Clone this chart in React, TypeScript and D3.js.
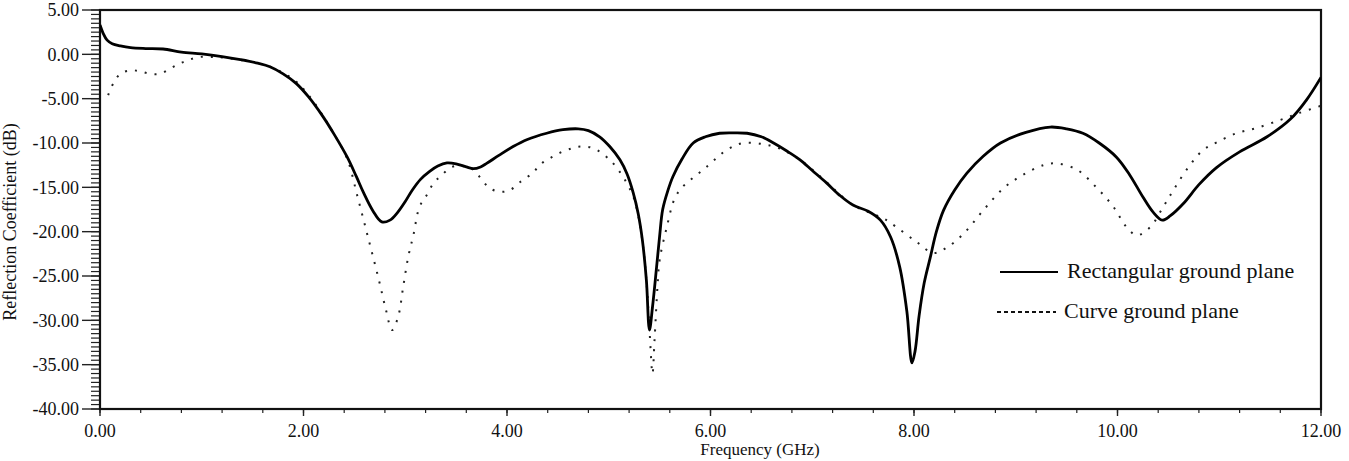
import React from 'react';
import * as d3 from 'd3';

// Rectangular ground plane (solid)
const rectFreq = [0, 0.03, 0.07, 0.12, 0.2, 0.3, 0.45, 0.62, 0.8, 1.0, 1.2, 1.38, 1.55, 1.67, 1.8, 1.93, 2.05, 2.19, 2.3, 2.43, 2.52, 2.59, 2.68, 2.77, 2.85, 2.92, 3.0, 3.07, 3.15, 3.24, 3.32, 3.41, 3.5, 3.6, 3.67, 3.74, 3.8, 3.92, 4.06, 4.2, 4.39, 4.55, 4.7, 4.8, 4.91, 5.01, 5.11, 5.18, 5.24, 5.29, 5.33, 5.37, 5.4, 5.43, 5.47, 5.5, 5.53, 5.58, 5.63, 5.72, 5.83, 5.95, 6.09, 6.22, 6.36, 6.5, 6.62, 6.75, 6.88, 7.0, 7.14, 7.27, 7.4, 7.55, 7.67, 7.77, 7.86, 7.93, 7.98, 8.01, 8.05, 8.1, 8.16, 8.22, 8.29, 8.4, 8.52, 8.68, 8.85, 9.1, 9.34, 9.5, 9.66, 9.82, 9.99, 10.12, 10.25, 10.35, 10.44, 10.52, 10.65, 10.8, 10.97, 11.2, 11.47, 11.7, 11.86, 12.0];
const rectDb = [3.3, 2.4, 1.6, 1.2, 0.95, 0.75, 0.65, 0.6, 0.25, 0.05, -0.25, -0.6, -1.0, -1.4, -2.2, -3.3, -4.8, -7.0, -9.0, -11.6, -13.8, -15.6, -17.6, -18.9, -18.7, -17.9, -16.6, -15.3, -14.1, -13.2, -12.6, -12.25, -12.35, -12.7, -12.9, -12.7, -12.3, -11.4, -10.4, -9.6, -8.9, -8.5, -8.4, -8.6, -9.3, -10.4, -11.9, -13.5, -15.6, -18.0, -20.9, -25.5, -31.1, -28.5, -24.0, -20.5, -17.5, -15.4, -13.8, -11.8, -10.0, -9.3, -8.9, -8.85, -8.9, -9.3, -10.0, -10.9, -11.9, -13.1, -14.5, -15.9, -17.0, -17.7, -18.7, -20.6, -24.0, -29.0, -34.8, -33.5, -29.5, -25.8, -22.9, -20.0, -17.6, -15.3, -13.4, -11.5, -10.0, -8.8, -8.2, -8.4, -8.9, -10.0, -11.6, -13.6, -16.1, -17.8, -18.7, -18.2, -16.8, -14.7, -12.8, -11.0, -9.3, -7.3, -5.1, -2.6];

// Curve ground plane (dotted)
const curveFreq = [0.08, 0.13, 0.2, 0.3, 0.39, 0.49, 0.59, 0.69, 0.79, 0.88, 0.98, 1.1, 1.2, 1.38, 1.55, 1.67, 1.8, 1.93, 2.05, 2.19, 2.3, 2.43, 2.53, 2.64, 2.74, 2.81, 2.87, 2.93, 2.98, 3.03, 3.08, 3.14, 3.21, 3.28, 3.36, 3.46, 3.55, 3.64, 3.73, 3.83, 3.94, 4.03, 4.13, 4.25, 4.34, 4.44, 4.54, 4.64, 4.73, 4.85, 5.01, 5.14, 5.24, 5.29, 5.33, 5.37, 5.4, 5.43, 5.45, 5.48, 5.5, 5.57, 5.65, 5.73, 5.83, 5.93, 6.02, 6.12, 6.22, 6.32, 6.44, 6.54, 6.63, 6.75, 6.88, 7.0, 7.14, 7.27, 7.4, 7.55, 7.7, 7.83, 8.03, 8.19, 8.32, 8.49, 8.68, 8.88, 9.07, 9.27, 9.4, 9.6, 9.8, 9.96, 10.09, 10.19, 10.32, 10.45, 10.55, 10.68, 10.84, 10.98, 11.17, 11.37, 11.6, 11.79, 12.0];
const curveDb = [-4.6, -3.3, -2.2, -1.8, -1.9, -2.2, -2.2, -1.6, -1.0, -0.6, -0.3, -0.3, -0.35, -0.65, -1.0, -1.4, -2.1, -3.1, -4.6, -6.9, -9.0, -11.8, -16.0, -20.9, -25.4, -28.8, -31.1, -29.6, -26.2, -22.8, -20.4, -17.2, -15.9, -14.5, -13.6, -12.7, -12.6, -12.8, -13.8, -15.1, -15.5, -15.3, -14.4, -13.4, -12.3, -11.6, -11.0, -10.6, -10.4, -10.6, -11.9, -13.8, -16.0, -18.2, -21.0, -25.5, -31.0, -36.0, -32.2, -26.0, -23.2, -19.5, -16.2, -14.9, -13.9, -13.0, -12.1, -11.1, -10.4, -10.0, -10.0, -10.2, -10.4, -11.0, -11.9, -13.0, -14.4, -15.8, -17.0, -17.8, -18.5, -19.5, -21.2, -22.4, -21.8, -20.2, -17.6, -15.1, -13.6, -12.5, -12.3, -13.0, -15.1, -17.2, -19.5, -20.4, -19.5, -17.2, -15.3, -13.0, -10.8, -9.9, -8.9, -8.3, -7.4, -6.6, -5.8];

const xTicks = [0, 2, 4, 6, 8, 10, 12];
const yTicks = [5, 0, -5, -10, -15, -20, -25, -30, -35, -40];
const xTitle = 'Frequency (GHz)';
const yTitle = 'Reflection Coefficient (dB)';
const legendLabels = ['Rectangular ground plane', 'Curve ground plane'];

const FONT = "'Liberation Serif', 'Times New Roman', serif";

export default function App() {
  const W = 1349;
  const H = 461;
  const left = 100, right = 1321, top = 10, bottom = 409;
  const x = d3.scaleLinear().domain([0, 12]).range([left, right]);
  const y = d3.scaleLinear().domain([-40, 5]).range([bottom, top]);
  const line = d3
    .line<[number, number]>()
    .x((d) => x(d[0]))
    .y((d) => y(d[1]))
    .curve(d3.curveCatmullRom.alpha(0.5));

  const rectPts = rectFreq.map((f, i) => [f, rectDb[i]] as [number, number]);
  const curvePts = curveFreq.map((f, i) => [f, curveDb[i]] as [number, number]);

  const xMinor = d3.range(0, 12.0001, 0.4);
  const yMinor = d3.range(-40, 5.0001, 0.5);

  return (
    <svg
      width={W}
      height={H}
      style={{ position: 'absolute', left: 0, top: 0, background: '#fff' }}
      fontFamily={FONT}
    >
      <rect x={0} y={0} width={W} height={H} fill="#fff" />
      <defs>
        <clipPath id="plotclip">
          <rect x={left} y={top} width={right - left} height={bottom - top} />
        </clipPath>
      </defs>

      {/* y minor & major ticks */}
      {yMinor.map((v, i) => (
        <line key={'ym' + i} x1={left - 9} x2={left} y1={y(v)} y2={y(v)} stroke="#222" strokeWidth={1.2} />
      ))}
      {yTicks.map((v) => (
        <line key={'yt' + v} x1={left - 18} x2={left} y1={y(v)} y2={y(v)} stroke="#222" strokeWidth={1.4} />
      ))}
      {yTicks.map((v) => (
        <text key={'yl' + v} x={79} y={y(v)} dy="0.35em" textAnchor="end" fontSize={18} fill="#111">
          {v.toFixed(2)}
        </text>
      ))}

      {/* x ticks */}
      {xMinor.map((v, i) => (
        <line key={'xm' + i} x1={x(v)} x2={x(v)} y1={bottom} y2={bottom + 4} stroke="#222" strokeWidth={1.2} />
      ))}
      {xTicks.map((v) => (
        <line key={'xt' + v} x1={x(v)} x2={x(v)} y1={bottom} y2={bottom + 7} stroke="#222" strokeWidth={1.4} />
      ))}
      {xTicks.map((v) => (
        <text key={'xl' + v} x={x(v)} y={437} textAnchor="middle" fontSize={18} fill="#111">
          {v.toFixed(2)}
        </text>
      ))}

      {/* frame */}
      <rect x={left} y={top} width={right - left} height={bottom - top} fill="none" stroke="#111" strokeWidth={2.2} />

      {/* curves */}
      <g clipPath="url(#plotclip)">
        <path d={line(curvePts) || ''} fill="none" stroke="#222" strokeWidth={2} strokeDasharray="2 8" />
        <path d={line(rectPts) || ''} fill="none" stroke="#000" strokeWidth={2.8} strokeLinejoin="round" />
      </g>

      {/* axis titles */}
      <text x={760} y={455} textAnchor="middle" fontSize={17} fill="#111">
        {xTitle}
      </text>
      <text
        transform={`translate(16, 222) rotate(-90)`}
        textAnchor="middle"
        fontSize={18}
        fill="#111"
      >
        {yTitle}
      </text>

      {/* legend */}
      <line x1={1000} x2={1058} y1={272} y2={272} stroke="#000" strokeWidth={2.2} />
      <text x={1067} y={278} fontSize={22} fill="#111">
        {legendLabels[0]}
      </text>
      <line x1={997} x2={1056} y1={312} y2={312} stroke="#111" strokeWidth={2} strokeDasharray="4 3" />
      <text x={1064} y={318} fontSize={22} fill="#111">
        {legendLabels[1]}
      </text>
    </svg>
  );
}
